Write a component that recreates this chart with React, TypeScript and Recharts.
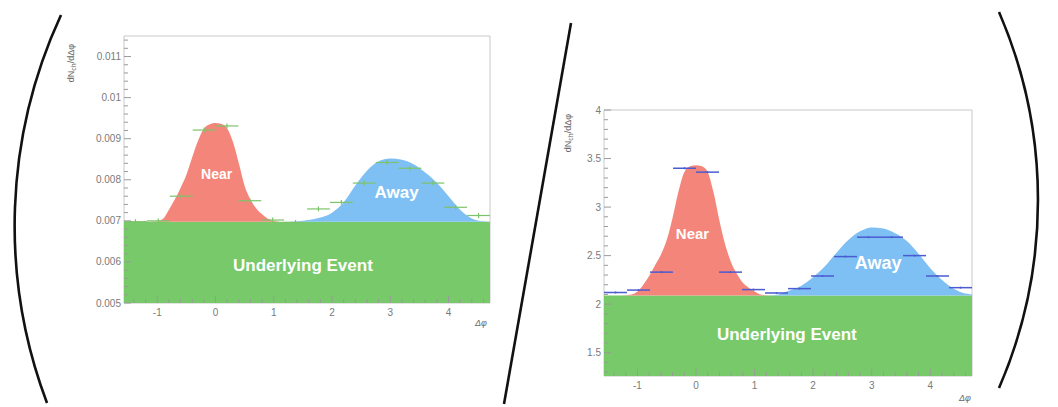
import React from 'react';
import {
  ComposedChart,
  Area,
  Scatter,
  ErrorBar,
  XAxis,
  YAxis,
  ReferenceArea,
  ReferenceDot,
} from 'recharts';

const FONT = '"Liberation Sans", Arial, Helvetica, sans-serif';

// Δφ range shown on both panels: -π/2 .. 3π/2
const PHI_LO = -1.571;
const PHI_HI = 4.712;
const BIN_HALF = 0.196;

const phiTicks = [-1, 0, 1, 2, 3, 4];
const binCenters = [
  -1.374, -0.982, -0.589, -0.196, 0.196, 0.589, 0.982, 1.374,
  1.767, 2.16, 2.553, 2.945, 3.338, 3.731, 4.123, 4.516,
];

// ---- left panel ----
const leftYTicks = [0.005, 0.006, 0.007, 0.008, 0.009, 0.01, 0.011];
const leftYDomain = [0.005, 0.0115];
const leftUE = 0.00698;
const leftNearPhi = [
  -1.571, -1.2, -1.0, -0.9, -0.8, -0.7, -0.6, -0.5, -0.4, -0.3, -0.2, -0.1, 0,
  0.1, 0.2, 0.3, 0.4, 0.5, 0.6, 0.7, 0.8, 0.9, 1.0, 1.1, 1.25,
];
const leftNearVal = [
  0.00698, 0.00698, 0.00699, 0.00705, 0.00727, 0.00752, 0.0078, 0.00812, 0.00855,
  0.00895, 0.00924, 0.00935, 0.00938, 0.00936, 0.00925, 0.00892, 0.0084, 0.00785,
  0.00752, 0.0073, 0.00716, 0.00705, 0.007, 0.00698, 0.00698,
];
const leftAwayPhi = [
  1.25, 1.4, 1.6, 1.8, 2.0, 2.2, 2.4, 2.6, 2.8, 3.0, 3.2, 3.4, 3.6, 3.8, 4.0,
  4.2, 4.4, 4.6, 4.712,
];
const leftAwayVal = [
  0.00698, 0.00699, 0.00702, 0.00708, 0.0072, 0.00745, 0.00786, 0.00822, 0.00845,
  0.00852, 0.00849, 0.00838, 0.00818, 0.00793, 0.0076, 0.00727, 0.00706, 0.00699,
  0.00698,
];
const leftPoints = [
  0.00698, 0.007, 0.0076, 0.00921, 0.00931, 0.00749, 0.00702, 0.00696,
  0.00729, 0.00745, 0.00792, 0.00842, 0.00828, 0.00792, 0.00733, 0.00713,
];
const leftPointErr = 0.00006;

// ---- right panel ----
const rightYTicks = [1.5, 2, 2.5, 3, 3.5, 4];
const rightYDomain = [1.26, 4.0];
const rightUE = 2.09;
const rightNearPhi = [
  -1.571, -1.3, -1.1, -1.0, -0.9, -0.8, -0.7, -0.6, -0.5, -0.4, -0.3, -0.2, -0.1,
  0, 0.1, 0.2, 0.3, 0.4, 0.5, 0.6, 0.7, 0.8, 0.9, 1.0, 1.1, 1.25,
];
const rightNearVal = [
  2.09, 2.09, 2.1, 2.13, 2.2, 2.29, 2.4, 2.51, 2.66, 2.89, 3.16, 3.36, 3.42,
  3.43, 3.42, 3.36, 3.15, 2.86, 2.61, 2.43, 2.31, 2.22, 2.17, 2.13, 2.1, 2.09,
];
const rightAwayPhi = [
  1.25, 1.4, 1.6, 1.8, 2.0, 2.2, 2.4, 2.6, 2.8, 3.0, 3.2, 3.4, 3.6, 3.8, 4.0,
  4.2, 4.4, 4.6, 4.712,
];
const rightAwayVal = [
  2.09, 2.1, 2.14, 2.19, 2.28, 2.39, 2.53, 2.66, 2.75, 2.79, 2.78, 2.73, 2.65,
  2.52, 2.37, 2.25, 2.16, 2.11, 2.1,
];
const rightPoints = [
  2.12, 2.145, 2.33, 3.4, 3.36, 2.33, 2.15, 2.115,
  2.16, 2.29, 2.49, 2.69, 2.69, 2.5, 2.29, 2.17,
];
const rightPointErr = 0.01;

const COLORS = {
  ue: '#77c96a',
  near: '#f4857b',
  away: '#7ebff4',
  frame: '#c8c8c8',
  tick: '#9a9a9a',
  label: '#7a7a7a',
};

// merge the two peak curves into one table keyed by Δφ
function buildCurve(ue, nearPhi, nearVal, awayPhi, awayVal) {
  const rows = new Map();
  const row = (x) => {
    if (!rows.has(x)) rows.set(x, { x, ue });
    return rows.get(x);
  };
  nearPhi.forEach((x, i) => { row(x).near = [ue, nearVal[i]]; });
  awayPhi.forEach((x, i) => { row(x).away = [ue, awayVal[i]]; });
  return [...rows.values()].sort((a, b) => a.x - b.x);
}

function buildPoints(vals, err) {
  return binCenters.map((x, i) => ({ x, y: vals[i], ex: BIN_HALF, ey: err }));
}

// majors plus evenly spaced minor ticks inside [lo, hi]
function withMinor(majors, sub, lo, hi) {
  const step = (majors[1] - majors[0]) / sub;
  const start = majors[0] - Math.floor((majors[0] - lo) / step + 1e-9) * step;
  const out = [];
  for (let i = 0; start + i * step <= hi + step * 1e-6; i++) {
    out.push(Math.round((start + i * step) * 1e9) / 1e9);
  }
  return out;
}

const isMajor = (majors, v) => majors.some((m) => Math.abs(m - v) < 1e-9);

function yTick(majors) {
  return (props) => {
    const { x, y, payload } = props;
    const major = isMajor(majors, payload.value);
    return (
      <g>
        <line x1={x} x2={x + (major ? 7 : 4)} y1={y} y2={y} stroke={COLORS.tick} />
        {major && (
          <text x={x - 3} y={y} dy={3.5} textAnchor="end" fontSize={10} fill={COLORS.label} fontFamily={FONT}>
            {String(payload.value)}
          </text>
        )}
      </g>
    );
  };
}

function xTick(majors) {
  return (props) => {
    const { x, y, payload } = props;
    const major = isMajor(majors, payload.value);
    return (
      <g>
        <line x1={x} x2={x} y1={y} y2={y - (major ? 7 : 4)} stroke={COLORS.tick} />
        {major && (
          <text x={x} y={y + 13} textAnchor="middle" fontSize={10} fill={COLORS.label} fontFamily={FONT}>
            {String(payload.value)}
          </text>
        )}
      </g>
    );
  };
}

function tag(text, size) {
  return {
    value: text,
    position: 'center',
    fill: '#ffffff',
    fontSize: size,
    fontWeight: 700,
    fontFamily: FONT,
  };
}

function Panel({ width, height, margin, yAxisWidth, yDomain, yTicks, ySub, curve, points, barColor, barWidth, tags }) {
  return (
    <ComposedChart width={width} height={height} data={curve} margin={margin}>
      <XAxis
        type="number"
        dataKey="x"
        domain={[PHI_LO, PHI_HI]}
        allowDataOverflow
        ticks={withMinor(phiTicks, 5, PHI_LO, PHI_HI)}
        interval={0}
        tick={xTick(phiTicks)}
        tickSize={0}
        tickMargin={0}
        axisLine={false}
        height={20}
      />
      <YAxis
        type="number"
        domain={yDomain}
        allowDataOverflow
        ticks={withMinor(yTicks, ySub, yDomain[0], yDomain[1])}
        interval={0}
        tick={yTick(yTicks)}
        tickSize={0}
        tickMargin={0}
        axisLine={false}
        width={yAxisWidth}
      />
      <ReferenceArea
        x1={PHI_LO}
        x2={PHI_HI}
        y1={yDomain[0]}
        y2={yDomain[1]}
        fill="none"
        stroke={COLORS.frame}
        strokeWidth={1}
      />
      <Area
        type="linear"
        dataKey="ue"
        baseValue="dataMin"
        stroke="none"
        fill={COLORS.ue}
        fillOpacity={1}
        isAnimationActive={false}
      />
      <Area
        type="monotone"
        dataKey="near"
        stroke="none"
        fill={COLORS.near}
        fillOpacity={1}
        isAnimationActive={false}
      />
      <Area
        type="monotone"
        dataKey="away"
        stroke="none"
        fill={COLORS.away}
        fillOpacity={1}
        isAnimationActive={false}
      />
      <Scatter data={points} dataKey="y" shape={() => <g />} isAnimationActive={false}>
        <ErrorBar dataKey="ex" direction="x" width={0} stroke={barColor} strokeWidth={barWidth} />
        <ErrorBar dataKey="ey" direction="y" width={0} stroke={barColor} strokeWidth={barWidth} />
      </Scatter>
      {tags.map((t) => (
        <ReferenceDot key={t.text} x={t.x} y={t.y} r={1} fill="none" stroke="none" label={tag(t.text, t.size)} />
      ))}
    </ComposedChart>
  );
}

function YTitle({ x, y }) {
  return (
    <text transform={`translate(${x},${y}) rotate(-90)`} textAnchor="middle" fontSize={9} fill="#666" fontFamily={FONT}>
      dN
      <tspan fontSize={7} dy={2}>ch</tspan>
      <tspan dy={-2}>/dΔφ</tspan>
    </text>
  );
}

export default function App() {
  const leftCurve = buildCurve(leftUE, leftNearPhi, leftNearVal, leftAwayPhi, leftAwayVal);
  const rightCurve = buildCurve(rightUE, rightNearPhi, rightNearVal, rightAwayPhi, rightAwayVal);

  return (
    <div style={{ position: 'absolute', left: 0, top: 0, width: 1058, height: 407, background: '#fff', overflow: 'hidden' }}>
      <div style={{ position: 'absolute', left: 0, top: 0 }}>
        <Panel
          width={500}
          height={335}
          margin={{ top: 36, right: 10, bottom: 12, left: 64 }}
          yAxisWidth={60}
          yDomain={leftYDomain}
          yTicks={leftYTicks}
          ySub={5}
          curve={leftCurve}
          points={buildPoints(leftPoints, leftPointErr)}
          barColor="#7cc46a"
          barWidth={1.2}
          tags={[
            { text: 'Near', x: 0.02, y: 0.00815, size: 14 },
            { text: 'Away', x: 3.11, y: 0.0077, size: 17 },
            { text: 'Underlying Event', x: 1.5, y: 0.00592, size: 17 },
          ]}
        />
      </div>
      <div style={{ position: 'absolute', left: 540, top: 70 }}>
        <Panel
          width={450}
          height={330}
          margin={{ top: 40, right: 18, bottom: 4, left: 14 }}
          yAxisWidth={50}
          yDomain={rightYDomain}
          yTicks={rightYTicks}
          ySub={5}
          curve={rightCurve}
          points={buildPoints(rightPoints, rightPointErr)}
          barColor="#4b5bd0"
          barWidth={1.5}
          tags={[
            { text: 'Near', x: -0.06, y: 2.73, size: 15 },
            { text: 'Away', x: 3.11, y: 2.43, size: 18 },
            { text: 'Underlying Event', x: 1.55, y: 1.69, size: 17 },
          ]}
        />
      </div>
      <svg width={1058} height={407} style={{ position: 'absolute', left: 0, top: 0, pointerEvents: 'none' }}>
        <path d="M 61 15 A 502 502 0 0 0 47 403" fill="none" stroke="#111" strokeWidth={2.6} />
        <path d="M 571 23 L 504 404" fill="none" stroke="#111" strokeWidth={2.6} />
        <path d="M 999 12 A 473 473 0 0 1 999 388" fill="none" stroke="#111" strokeWidth={2.6} />
        <YTitle x={74} y={63} />
        <YTitle x={571} y={133} />
        <text x={487} y={326} textAnchor="end" fontSize={9} fontStyle="italic" fill="#666" fontFamily={FONT}>Δφ</text>
        <text x={971} y={401} textAnchor="end" fontSize={9} fontStyle="italic" fill="#666" fontFamily={FONT}>Δφ</text>
      </svg>
    </div>
  );
}
